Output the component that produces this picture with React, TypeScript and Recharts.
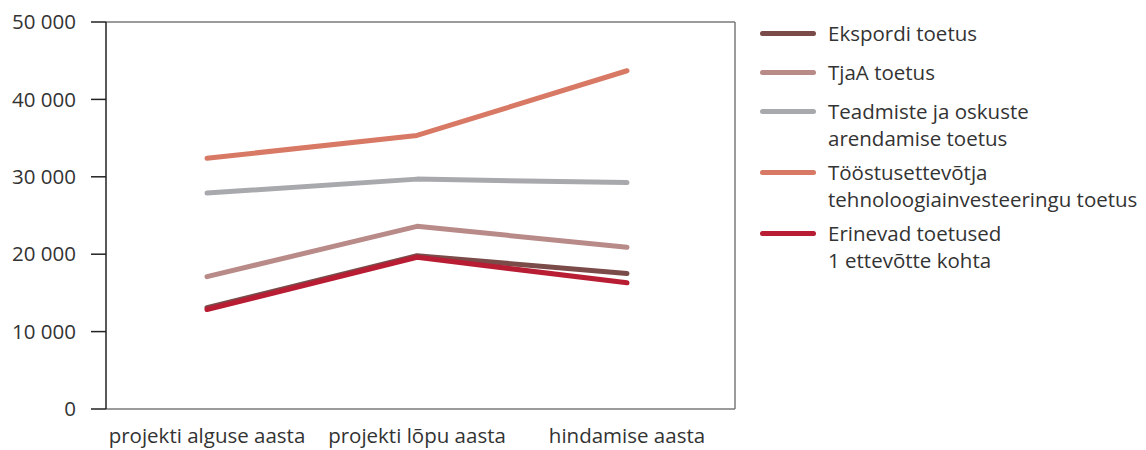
import { Line, LineChart, XAxis, YAxis } from "recharts";

const categories = ["projekti alguse aasta", "projekti lõpu aasta", "hindamise aasta"];
const ekspordi = [13100, 19800, 17500];
const tjaa = [17100, 23600, 20900];
const teadmiste = [27900, 29700, 29250];
const toostus = [32400, 35350, 43700];
const erinevad = [12850, 19600, 16300];
const yTicks = [0, 10000, 20000, 30000, 40000, 50000];

const series = [
  { key: "ekspordi", name: "Ekspordi toetus", values: ekspordi, color: "#7b4b49" },
  { key: "tjaa", name: "TjaA toetus", values: tjaa, color: "#b88a88" },
  { key: "teadmiste", name: "Teadmiste ja oskuste\narendamise toetus", values: teadmiste, color: "#a8a9ad" },
  { key: "toostus", name: "Tööstusettevõtja\ntehnoloogiainvesteeringu toetus", values: toostus, color: "#d87966" },
  { key: "erinevad", name: "Erinevad toetused\n1 ettevõtte kohta", values: erinevad, color: "#b81d34" },
];

const data = categories.map((c, i) => {
  const row: Record<string, string | number> = { cat: c };
  series.forEach((s) => (row[s.key] = s.values[i]));
  return row;
});

const font = "'Open Sans', sans-serif";
const fontSize = 20.5;
const textColor = "#333333";
const frame = { stroke: "#7a7a7a", strokeWidth: 1.5 };

const fmt = (v: number) => (v === 0 ? "0" : `${Math.round(v / 1000)} 000`);

function LegendBox() {
  return (
    <div style={{ position: "absolute", left: 760, top: 20, fontFamily: font, fontSize, color: textColor }}>
      {series.map((s) => (
        <div key={s.key} style={{ display: "flex", alignItems: "flex-start", minHeight: 31, marginBottom: 8 }}>
          <div style={{ width: 56, height: 5, borderRadius: 3, background: s.color, marginTop: 11, marginRight: 12, flexShrink: 0 }} />
          <div style={{ lineHeight: "26.5px", whiteSpace: "pre" }}>{s.name}</div>
        </div>
      ))}
    </div>
  );
}

export default function App() {
  return (
    <div style={{ position: "absolute", left: 0, top: 0, width: 1146, height: 450, background: "#fff" }}>
      <LineChart width={1146} height={450} data={data} margin={{ top: 21, right: 410, left: 0, bottom: 0 }}>
        <XAxis
          dataKey="cat"
          padding={{ left: 101, right: 108 }}
          axisLine={frame}
          tickLine={false}
          tickSize={0}
          tickMargin={19}
          height={41}
          tick={{ fill: textColor, fontSize, fontFamily: font }}
        />
        <XAxis
          xAxisId="top"
          orientation="top"
          dataKey="cat"
          padding={{ left: 101, right: 108 }}
          height={1}
          tick={false}
          tickLine={false}
          axisLine={frame}
        />
        <YAxis
          domain={[0, 50000]}
          ticks={yTicks}
          tickFormatter={fmt}
          width={106}
          tickSize={15}
          tickMargin={15}
          axisLine={{ stroke: "#222", strokeWidth: 1.5 }}
          tickLine={{ stroke: "#222", strokeWidth: 1.5 }}
          tick={{ fill: textColor, fontSize, fontFamily: font }}
        />
        <YAxis yAxisId="r" orientation="right" domain={[0, 50000]} width={1} tick={false} tickLine={false} axisLine={frame} />
        {series.map((s) => (
          <Line
            key={s.key}
            dataKey={s.key}
            name={s.name}
            stroke={s.color}
            strokeWidth={5}
            strokeLinecap="round"
            strokeLinejoin="round"
            dot={false}
            activeDot={false}
            isAnimationActive={false}
          />
        ))}
      </LineChart>
      <LegendBox />
    </div>
  );
}
